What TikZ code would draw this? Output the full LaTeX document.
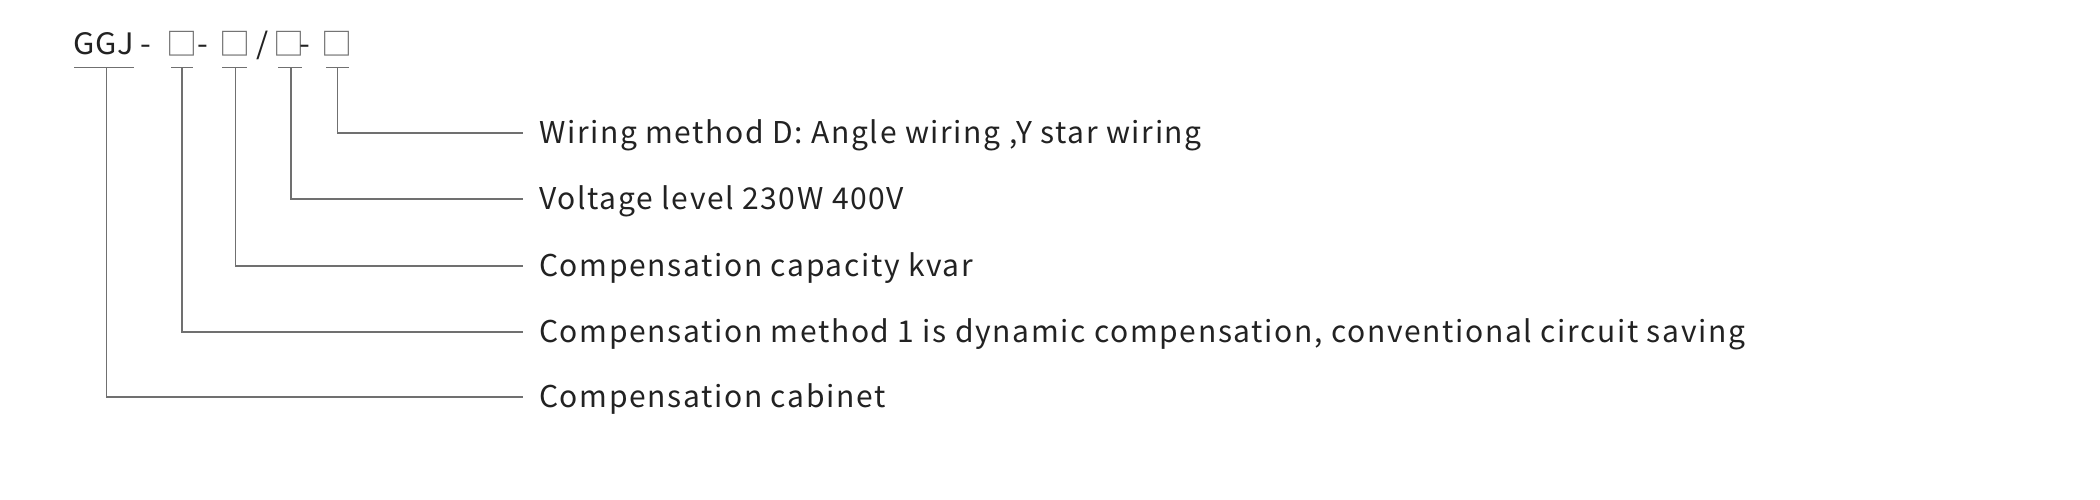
\documentclass[tikz,border=0pt]{standalone}
\usepackage{fontspec}
\setmainfont{Noto Sans CJK SC}
\newfontfamily\lblfont{Noto Sans CJK SC}[LetterSpace=5.5]
\newfontfamily\codefont{Noto Sans CJK SC}[LetterSpace=2,FakeStretch=1.05]
\definecolor{txt}{HTML}{222222}
\definecolor{lnc}{HTML}{707070}
\begin{document}
\begin{tikzpicture}[x=1pt,y=-1pt,
  lbl/.style={anchor=base west,inner sep=0pt,font=\lblfont\fontsize{30}{36}\selectfont,text=txt},
  codetxt/.style={inner sep=0pt,font=\codefont\fontsize{29.5}{34}\selectfont,text=txt},
  boxch/.style={inner sep=0pt,anchor=center,font=\fontsize{31}{34}\selectfont,text=lnc},
  conn/.style={draw=lnc,line width=1.4pt}]
\useasboundingbox (0,0) rectangle (2100,500);
\fill[white] (0,0) rectangle (2100,500);
% code row
\node[codetxt,anchor=base west] (ggj) at (73,55) {GGJ};
\node[codetxt,anchor=base] (d1) at (146,55) {-};
\node[boxch] (b1) at (182,43.3) {□};
\node[codetxt,anchor=base] (d2) at (203,55) {-};
\node[boxch] (b2) at (234.5,43.3) {□};
\node[codetxt,anchor=base] (sl) at (262.5,55) {/};
\node[boxch] (b3) at (288.5,43.3) {□};
\node[codetxt,anchor=base] (d3) at (305,55) {-};
\node[boxch] (b4) at (337,43.3) {□};
% labels
\node[lbl] (l4) at (539,143.5) {Wiring method D: Angle wiring ,Y star wiring};
\node[lbl] (l3) at (539,209.5) {Voltage level 230W 400V};
\node[lbl] (l2) at (539,276.5) {Compensation capacity kvar};
\node[lbl] (l1) at (539,342.5) {Compensation method 1 is dynamic compensation, conventional circuit saving};
\node[lbl] (l0) at (539,407.5) {Compensation cabinet};
% underline coordinates
\coordinate (u0a) at (74,67.5);  \coordinate (u0b) at (134,67.5);
\coordinate (u1a) at (171,67.5); \coordinate (u1b) at (193,67.5);
\coordinate (u2a) at (222,67.5); \coordinate (u2b) at (247,67.5);
\coordinate (u3a) at (278,67.5); \coordinate (u3b) at (302,67.5);
\coordinate (u4a) at (326,67.5); \coordinate (u4b) at (349,67.5);
\coordinate (t0) at (106.5,67.5); \coordinate (e0) at (523,397);
\coordinate (t1) at (182,67.5);   \coordinate (e1) at (523,332);
\coordinate (t2) at (235.5,67.5); \coordinate (e2) at (523,266);
\coordinate (t3) at (291,67.5);   \coordinate (e3) at (523,199);
\coordinate (t4) at (337.5,67.5); \coordinate (e4) at (523,133);
\foreach \i in {0,...,4} {
  \draw[conn] (u\i a) -- (u\i b);
  \draw[conn] (t\i) |- (e\i);
}
\end{tikzpicture}
\end{document}
